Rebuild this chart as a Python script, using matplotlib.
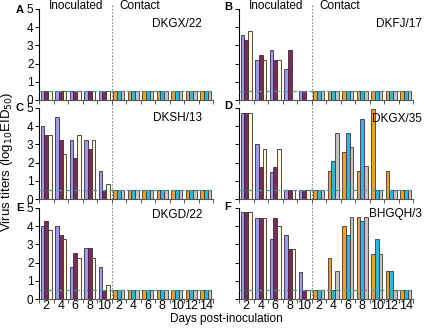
import numpy as np
import matplotlib
matplotlib.use("Agg")
import matplotlib.pyplot as plt

plt.rcParams['font.family'] = ['Liberation Sans', 'DejaVu Sans']

inoc_days = ["2", "4", "6", "8", "10"]
contact_days = ["2", "4", "6", "8", "10", "12", "14"]
letters = ["A", "B", "C", "D", "E", "F"]
strains = ["DKGX/22", "DKFJ/17", "DKSH/13", "DKGX/35", "DKGD/22", "BHGQH/3"]

nan = np.nan
# inoculated birds: one row per bird, one value per day
inoc_A = [[0.5, 0.5, 0.5, 0.5, 0.5], [0.5, 0.5, 0.5, 0.5, 0.5], [0.5, 0.5, 0.5, 0.5, 0.5]]
inoc_B = [[3.55, 2.22, 2.74, 1.72, 0.5], [3.28, 2.48, 2.22, 2.74, 0.5], [3.78, 2.22, 2.22, nan, nan]]
inoc_C = [[4.0, 4.52, 3.23, 3.23, 1.52], [3.5, 3.23, 2.24, 2.72, 0.5], [3.5, 2.5, 3.5, 3.23, 0.8]]
inoc_D = [[4.7, 3.0, 1.5, 0.5, 0.5], [4.7, 1.74, 1.74, 0.5, 0.5], [4.7, 2.72, 2.72, 0.5, 0.5]]
inoc_E = [[4.0, 4.0, 1.78, 2.8, 1.78], [4.28, 3.52, 2.52, 2.8, 0.5], [3.78, 3.3, 2.27, 2.27, 0.79]]
inoc_F = [[4.76, 4.47, 3.28, 3.5, 1.5], [4.76, 4.47, 4.47, 2.76, 0.5], [4.76, 4.47, 4.0, 2.76, 0.5]]

# contact birds
base = [0.5] * 7
cont_A = [base, base, base]
cont_B = [base, base, base]
cont_C = [base, base, base]
cont_D = [[0.5, 1.56, 2.58, 1.56, 4.93, 1.56, 0.5],
          [0.5, 2.08, 3.62, 4.39, 0.5, 0.5, 0.5],
          [0.5, 3.62, 2.85, 1.83, 0.5, 0.5, 0.5]]
cont_E = [base, base, base]
cont_F = [[0.5, 2.25, 4.03, 4.5, 2.49, 1.53, 0.5],
          [0.5, 0.5, 3.52, 4.29, 3.28, 1.53, 0.5],
          [0.5, 1.53, 4.5, 4.5, 2.49, 0.5, 0.5]]

inoc_all = [inoc_A, inoc_B, inoc_C, inoc_D, inoc_E, inoc_F]
cont_all = [cont_A, cont_B, cont_C, cont_D, cont_E, cont_F]

inoc_colors = ['#9d9cec', '#7b2a5c', '#fdfbcf']
cont_colors = ['#f0a028', '#20bde2', '#c4c4c4']

W, H = 425, 329
fig = plt.figure(figsize=(W / 100, H / 100), dpi=100)

col_x = [39, 239]
row_top = [9, 108, 208]
ax_w, ax_h = 174, 91

# label positions (x right edge in data units, y)
strain_pos = [(10.75, 4.17), (12.1, 4.17), (10.75, 4.45), (12.1, 4.38), (10.75, 4.6), (12.1, 4.65)]

bw = 0.25
for i in range(6):
    r, c = divmod(i, 2)
    ax = fig.add_axes([col_x[c] / W, 1 - (row_top[r] + ax_h) / H, ax_w / W, ax_h / H])
    xi = np.arange(5)
    xc = np.arange(5, 12)
    for b in range(3):
        ax.bar(xi + (b - 1) * bw, inoc_all[i][b], bw, color=inoc_colors[b],
               edgecolor='#3a2a3a', linewidth=0.6, zorder=2)
        ax.bar(xc + (b - 1) * bw, cont_all[i][b], bw, color=cont_colors[b],
               edgecolor='#3a3a3a', linewidth=0.6, zorder=2)
    ax.axhline(0.5, color='#4f9a9c', ls=(0, (4, 3)), lw=0.9, zorder=3)
    ax.axvline(4.5, ymin=0, ymax=1.06, color='#888888', ls=(0, (1.5, 1.5)), lw=0.8,
               clip_on=False, zorder=1)
    ax.set_xlim(-0.5, 11.5)
    ax.set_ylim(0, 5)
    for s in ['top', 'right']:
        ax.spines[s].set_visible(False)
    ax.spines['left'].set_linewidth(0.8)
    ax.spines['bottom'].set_linewidth(0.8)
    ax.spines['bottom'].set_color('#555555')
    ax.set_yticks(range(6))
    ax.set_xticks(np.arange(-0.5, 12, 1.0))
    ax.set_xticklabels([])
    ax.set_xticks(np.arange(12), minor=True)
    ax.tick_params(axis='x', which='major', direction='out', length=3, width=0.7, color='#555555')
    ax.tick_params(axis='x', which='minor', length=0, labelsize=9, pad=1)
    ax.tick_params(axis='y', direction='out', length=3, width=0.7, labelsize=8.5, pad=1)
    if r == 2:
        ax.set_xticklabels(inoc_days + contact_days, minor=True)
    if c == 1:
        ax.set_yticklabels([])
    ax.text(strain_pos[i][0], strain_pos[i][1], strains[i], ha='right', va='center',
            fontsize=8.5, clip_on=False)
    if r == 0:
        ax.text(0.15, 5.15, "Inoculated", ha='left', va='center', fontsize=8.5)
        ax.text(5.05, 5.15, "Contact", ha='left', va='center', fontsize=8.5)

letter_xy = [(20, 10), (228, 7), (20, 108), (228, 106), (20, 208), (228, 207)]
for L, (x, y) in zip(letters, letter_xy):
    fig.text(x / W, 1 - y / H, L, ha='center', va='center', fontsize=8, fontweight='bold')

fig.text(7 / W, 1 - 162 / H, r"Virus titers (log$_{10}$EID$_{50}$)", rotation=90,
         ha='center', va='center', fontsize=9.5)
fig.text(226 / W, 1 - 319 / H, "Days post-inoculation", ha='center', va='center', fontsize=8.5)

fig.savefig("out.png", dpi=100)
